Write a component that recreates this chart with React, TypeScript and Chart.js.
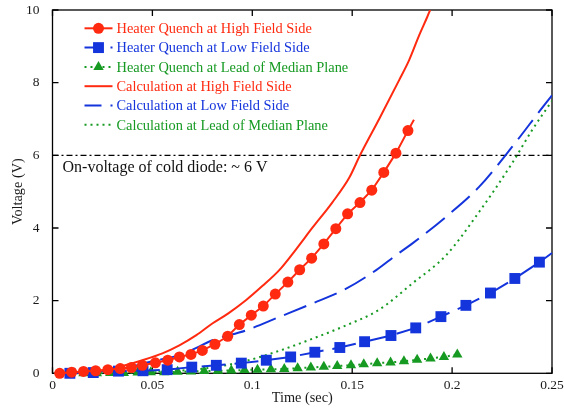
import React, { useEffect, useRef } from "react";
import { Chart, registerables } from "chart.js";

Chart.register(...registerables);

const FONT = '"Liberation Serif", "Times New Roman", Times, serif';
const RED = "#ff2a10";
const BLUE = "#1434dc";
const GREEN = "#169a22";

// ---- tick labels ----
const xTicks = [0, 0.05, 0.1, 0.15, 0.2, 0.25];
const yTicks = [0, 2, 4, 6, 8, 10];

// ---- legend / text ----
const legendLabels = [
  "Heater Quench at High Field Side",
  "Heater Quench at Low Field Side",
  "Heater Quench at Lead of Median Plane",
  "Calculation at High Field Side",
  "Calculation at Low Field Side",
  "Calculation at Lead of Median Plane",
];
const diodeVoltage = 6;
const diodeLabel = "On-voltage of cold diode: ~ 6 V";
const xTitle = "Time (sec)";
const yTitle = "Voltage (V)";

// ---- Heater quench at high field side (measured) ----
const hqHighT = [0.0036, 0.0096, 0.0155, 0.0216, 0.0277, 0.0339, 0.0395, 0.045, 0.0515, 0.0577, 0.0635, 0.0693, 0.075, 0.0813, 0.0877, 0.0935, 0.0995, 0.1055, 0.1115, 0.1178, 0.1237, 0.1297, 0.1358, 0.1418, 0.1477, 0.1539, 0.1598, 0.1658, 0.1719, 0.1779, 0.1809];
const hqHighV = [0, 0.03, 0.05, 0.07, 0.1, 0.13, 0.16, 0.22, 0.29, 0.36, 0.45, 0.52, 0.63, 0.8, 1.02, 1.34, 1.6, 1.85, 2.18, 2.51, 2.85, 3.17, 3.56, 3.98, 4.39, 4.7, 5.04, 5.53, 6.06, 6.68, 6.98];

// ---- Heater quench at low field side (measured) ----
const hqLowT = [0.0087, 0.0204, 0.033, 0.0453, 0.0574, 0.0697, 0.082, 0.0945, 0.107, 0.1192, 0.1313, 0.1438, 0.1562, 0.1694, 0.1818, 0.1944, 0.2069, 0.2192, 0.2314, 0.2437, 0.25];
const hqLowV = [0, 0.02, 0.06, 0.07, 0.1, 0.17, 0.22, 0.28, 0.36, 0.45, 0.58, 0.71, 0.87, 1.04, 1.25, 1.56, 1.87, 2.21, 2.61, 3.06, 3.31];

// ---- Heater quench at lead of median plane (measured) ----
const hqLeadT = [0.009, 0.0155, 0.0222, 0.0289, 0.0357, 0.0426, 0.0492, 0.0559, 0.0626, 0.0693, 0.0759, 0.0828, 0.0895, 0.0961, 0.1026, 0.1093, 0.116, 0.1227, 0.1293, 0.1358, 0.1425, 0.1494, 0.1558, 0.1625, 0.1692, 0.1759, 0.1825, 0.1892, 0.1959, 0.2026];
const hqLeadV = [0, 0, 0, 0.01, 0.01, 0.02, 0.03, 0.03, 0.04, 0.05, 0.06, 0.07, 0.08, 0.09, 0.1, 0.11, 0.12, 0.14, 0.16, 0.18, 0.2, 0.22, 0.25, 0.28, 0.3, 0.33, 0.37, 0.41, 0.45, 0.52];

// ---- Calculation at high field side ----
const calcHighT = [0.003, 0.015, 0.027, 0.035, 0.045, 0.055, 0.0635, 0.072, 0.08, 0.088, 0.0968, 0.105, 0.1135, 0.122, 0.13, 0.14, 0.1485, 0.1539, 0.1635, 0.1735, 0.1785, 0.1835, 0.1875, 0.189];
const calcHighV = [0, 0.03, 0.1, 0.2, 0.36, 0.55, 0.77, 1.05, 1.37, 1.65, 2.01, 2.4, 2.84, 3.42, 4.0, 4.7, 5.38, 6.0, 7.0, 8.07, 8.62, 9.3, 9.8, 10.0];

// ---- Calculation at low field side ----
const calcLowT = [0.005, 0.02, 0.035, 0.05, 0.0635, 0.072, 0.08, 0.0968, 0.1135, 0.13, 0.147, 0.162, 0.1719, 0.18, 0.197, 0.2135, 0.23, 0.2485, 0.25];
const calcLowV = [0, 0.03, 0.13, 0.33, 0.5, 0.7, 0.91, 1.18, 1.55, 1.92, 2.33, 2.84, 3.25, 3.57, 4.31, 5.13, 6.23, 7.55, 7.65];

// ---- Calculation at lead of median plane ----
const calcLeadT = [0.005, 0.03, 0.05, 0.065, 0.08, 0.0968, 0.1135, 0.13, 0.147, 0.1635, 0.18, 0.197, 0.2135, 0.23, 0.24, 0.2485, 0.25];
const calcLeadV = [0, 0.01, 0.04, 0.08, 0.16, 0.34, 0.62, 0.95, 1.32, 1.75, 2.47, 3.25, 4.44, 5.78, 6.69, 7.38, 7.5];

const zip = (t: number[], v: number[]) => t.map((x, i) => ({ x, y: v[i] }));

type Sty = { color: string; dash: number[]; marker: string | null; r: number };
const styles: Sty[] = [
  { color: RED, dash: [], marker: "circle", r: 5.5 },
  { color: BLUE, dash: [24, 9], marker: "rect", r: 7.7 },
  { color: GREEN, dash: [2, 4], marker: "triangle", r: 6 },
  { color: RED, dash: [], marker: null, r: 0 },
  { color: BLUE, dash: [24, 9], marker: null, r: 0 },
  { color: GREEN, dash: [2, 4], marker: null, r: 0 },
];

function drawMarker(ctx: CanvasRenderingContext2D, kind: string, x: number, y: number, r: number, color: string) {
  ctx.save();
  ctx.setLineDash([]);
  ctx.fillStyle = color;
  ctx.beginPath();
  if (kind === "circle") {
    ctx.arc(x, y, r, 0, Math.PI * 2);
  } else if (kind === "rect") {
    const s = r * Math.SQRT1_2;
    ctx.rect(x - s, y - s, 2 * s, 2 * s);
  } else if (kind === "triangle") {
    const a = (2 * Math.PI) / 3;
    ctx.moveTo(x, y - r);
    ctx.lineTo(x + Math.sin(a) * r, y - Math.cos(a) * r);
    ctx.lineTo(x + Math.sin(2 * a) * r, y - Math.cos(2 * a) * r);
    ctx.closePath();
  }
  ctx.fill();
  ctx.restore();
}

const framePlugin = {
  id: "frame",
  beforeDatasetsDraw(chart: any) {
    const { ctx, chartArea: a, scales } = chart;
    const xs = scales.x;
    const ys = scales.y;
    ctx.save();
    ctx.strokeStyle = "#000";
    ctx.lineWidth = 1.3;
    ctx.strokeRect(a.left, a.top, a.right - a.left, a.bottom - a.top);
    ctx.beginPath();
    const L = 6;
    xs.ticks.forEach((t: any) => {
      const px = xs.getPixelForValue(t.value);
      ctx.moveTo(px, a.bottom);
      ctx.lineTo(px, a.bottom - L);
      ctx.moveTo(px, a.top);
      ctx.lineTo(px, a.top + L);
    });
    ys.ticks.forEach((t: any) => {
      const py = ys.getPixelForValue(t.value);
      ctx.moveTo(a.left, py);
      ctx.lineTo(a.left + L, py);
      ctx.moveTo(a.right, py);
      ctx.lineTo(a.right - L, py);
    });
    ctx.stroke();
    ctx.restore();
  },
  afterDatasetsDraw(chart: any) {
    const { ctx, chartArea: a, scales } = chart;
    ctx.save();
    // diode annotation
    ctx.font = `16px ${FONT}`;
    ctx.textBaseline = "middle";
    ctx.textAlign = "left";
    ctx.fillStyle = "#111";
    ctx.fillText(diodeLabel, a.left + 10, scales.y.getPixelForValue(diodeVoltage) + 12);
    // legend
    const x0 = a.left + 32;
    const x1 = a.left + 60;
    const xm = a.left + 46;
    const xt = a.left + 64;
    legendLabels.forEach((lab, i) => {
      const st = styles[i];
      const y = a.top + 18.3 + i * 19.3;
      ctx.save();
      ctx.strokeStyle = st.color;
      ctx.lineWidth = 2;
      ctx.setLineDash(st.dash);
      ctx.lineDashOffset = st.dash.length && st.dash[0] > 10 ? 7 : 0;
      ctx.beginPath();
      ctx.moveTo(x0, y);
      ctx.lineTo(x1, y);
      ctx.stroke();
      ctx.restore();
      if (st.marker) drawMarker(ctx, st.marker, xm, y, st.r, st.color);
      ctx.fillStyle = st.color;
      ctx.font = `14.4px ${FONT}`;
      ctx.textBaseline = "middle";
      ctx.fillText(lab, xt, y + 1);
    });
    ctx.restore();
  },
};

const fmt = (v: number) => String(Number(Number(v).toFixed(3)));

export default function App() {
  const ref = useRef<HTMLCanvasElement>(null);
  useEffect(() => {
    const canvas = ref.current!;
    const mk = (i: number, data: { x: number; y: number }[], extra: any = {}) => {
      const st = styles[i];
      return {
        label: legendLabels[i],
        data,
        borderColor: st.color,
        backgroundColor: st.color,
        borderWidth: 2,
        borderDash: st.dash,
        pointStyle: st.marker || "circle",
        pointRadius: st.marker ? data.map((_, k) => (i !== 2 && k === data.length - 1 ? 0 : st.r)) : 0,
        pointBorderWidth: 0,
        pointHoverRadius: 0,
        tension: 0,
        clip: st.marker ? false : undefined,
        ...extra,
      };
    };
    const tickFont = { family: FONT, size: 13.5 };
    const titleFont = { family: FONT, size: 14.3 };
    const chart = new Chart(canvas, {
      type: "line",
      data: {
        datasets: [
          mk(0, zip(hqHighT, hqHighV)),
          mk(1, zip(hqLowT, hqLowV)),
          mk(2, zip(hqLeadT, hqLeadV)),
          mk(3, zip(calcHighT, calcHighV), { cubicInterpolationMode: "monotone" }),
          mk(4, zip(calcLowT, calcLowV), { cubicInterpolationMode: "monotone" }),
          mk(5, zip(calcLeadT, calcLeadV), { cubicInterpolationMode: "monotone" }),
          {
            label: "diode",
            data: [
              { x: xTicks[0], y: diodeVoltage },
              { x: xTicks[xTicks.length - 1], y: diodeVoltage },
            ],
            borderColor: "#000",
            borderWidth: 1.3,
            borderDash: [6, 3, 2, 3],
            pointRadius: 0,
          },
        ],
      } as any,
      options: {
        animation: false,
        responsive: false,
        events: [],
        layout: { padding: { left: 0, right: 12, top: 10, bottom: 0 } },
        plugins: { legend: { display: false }, tooltip: { enabled: false } },
        scales: {
          x: {
            type: "linear",
            min: 0,
            max: 0.25,
            afterBuildTicks: (s: any) => {
              s.ticks = xTicks.map((v) => ({ value: v }));
            },
            afterFit: (s: any) => {
              s.height = 34.7;
              s.paddingLeft = 0;
              s.paddingRight = 0;
            },
            grid: { display: false, drawTicks: false },
            border: { display: false },
            ticks: {
              padding: 4.5,
              color: "#1a1a1a",
              font: tickFont,
              maxRotation: 0,
              autoSkip: false,
              callback: (v: any) => fmt(v),
            },
            title: {
              display: true,
              text: xTitle,
              color: "#1a1a1a",
              font: titleFont,
              padding: { top: 0, bottom: 0.8 },
            },
          },
          y: {
            type: "linear",
            min: 0,
            max: 10,
            afterBuildTicks: (s: any) => {
              s.ticks = yTicks.map((v) => ({ value: v }));
            },
            afterFit: (s: any) => {
              s.width = 52.5;
              s.paddingTop = 0;
              s.paddingBottom = 0;
            },
            grid: { display: false, drawTicks: false },
            border: { display: false },
            ticks: {
              padding: 13,
              color: "#1a1a1a",
              font: tickFont,
              autoSkip: false,
              callback: (v: any) => fmt(v),
            },
            title: {
              display: true,
              text: yTitle,
              color: "#1a1a1a",
              font: titleFont,
              padding: { top: 9.4, bottom: 0 },
            },
          },
        },
      },
      plugins: [framePlugin],
    } as any);
    return () => chart.destroy();
  }, []);
  return (
    <div style={{ position: "absolute", left: 0, top: 0, width: 564, height: 408, background: "#fff" }}>
      <canvas ref={ref} width={564} height={408} style={{ display: "block", width: 564, height: 408 }} />
    </div>
  );
}
